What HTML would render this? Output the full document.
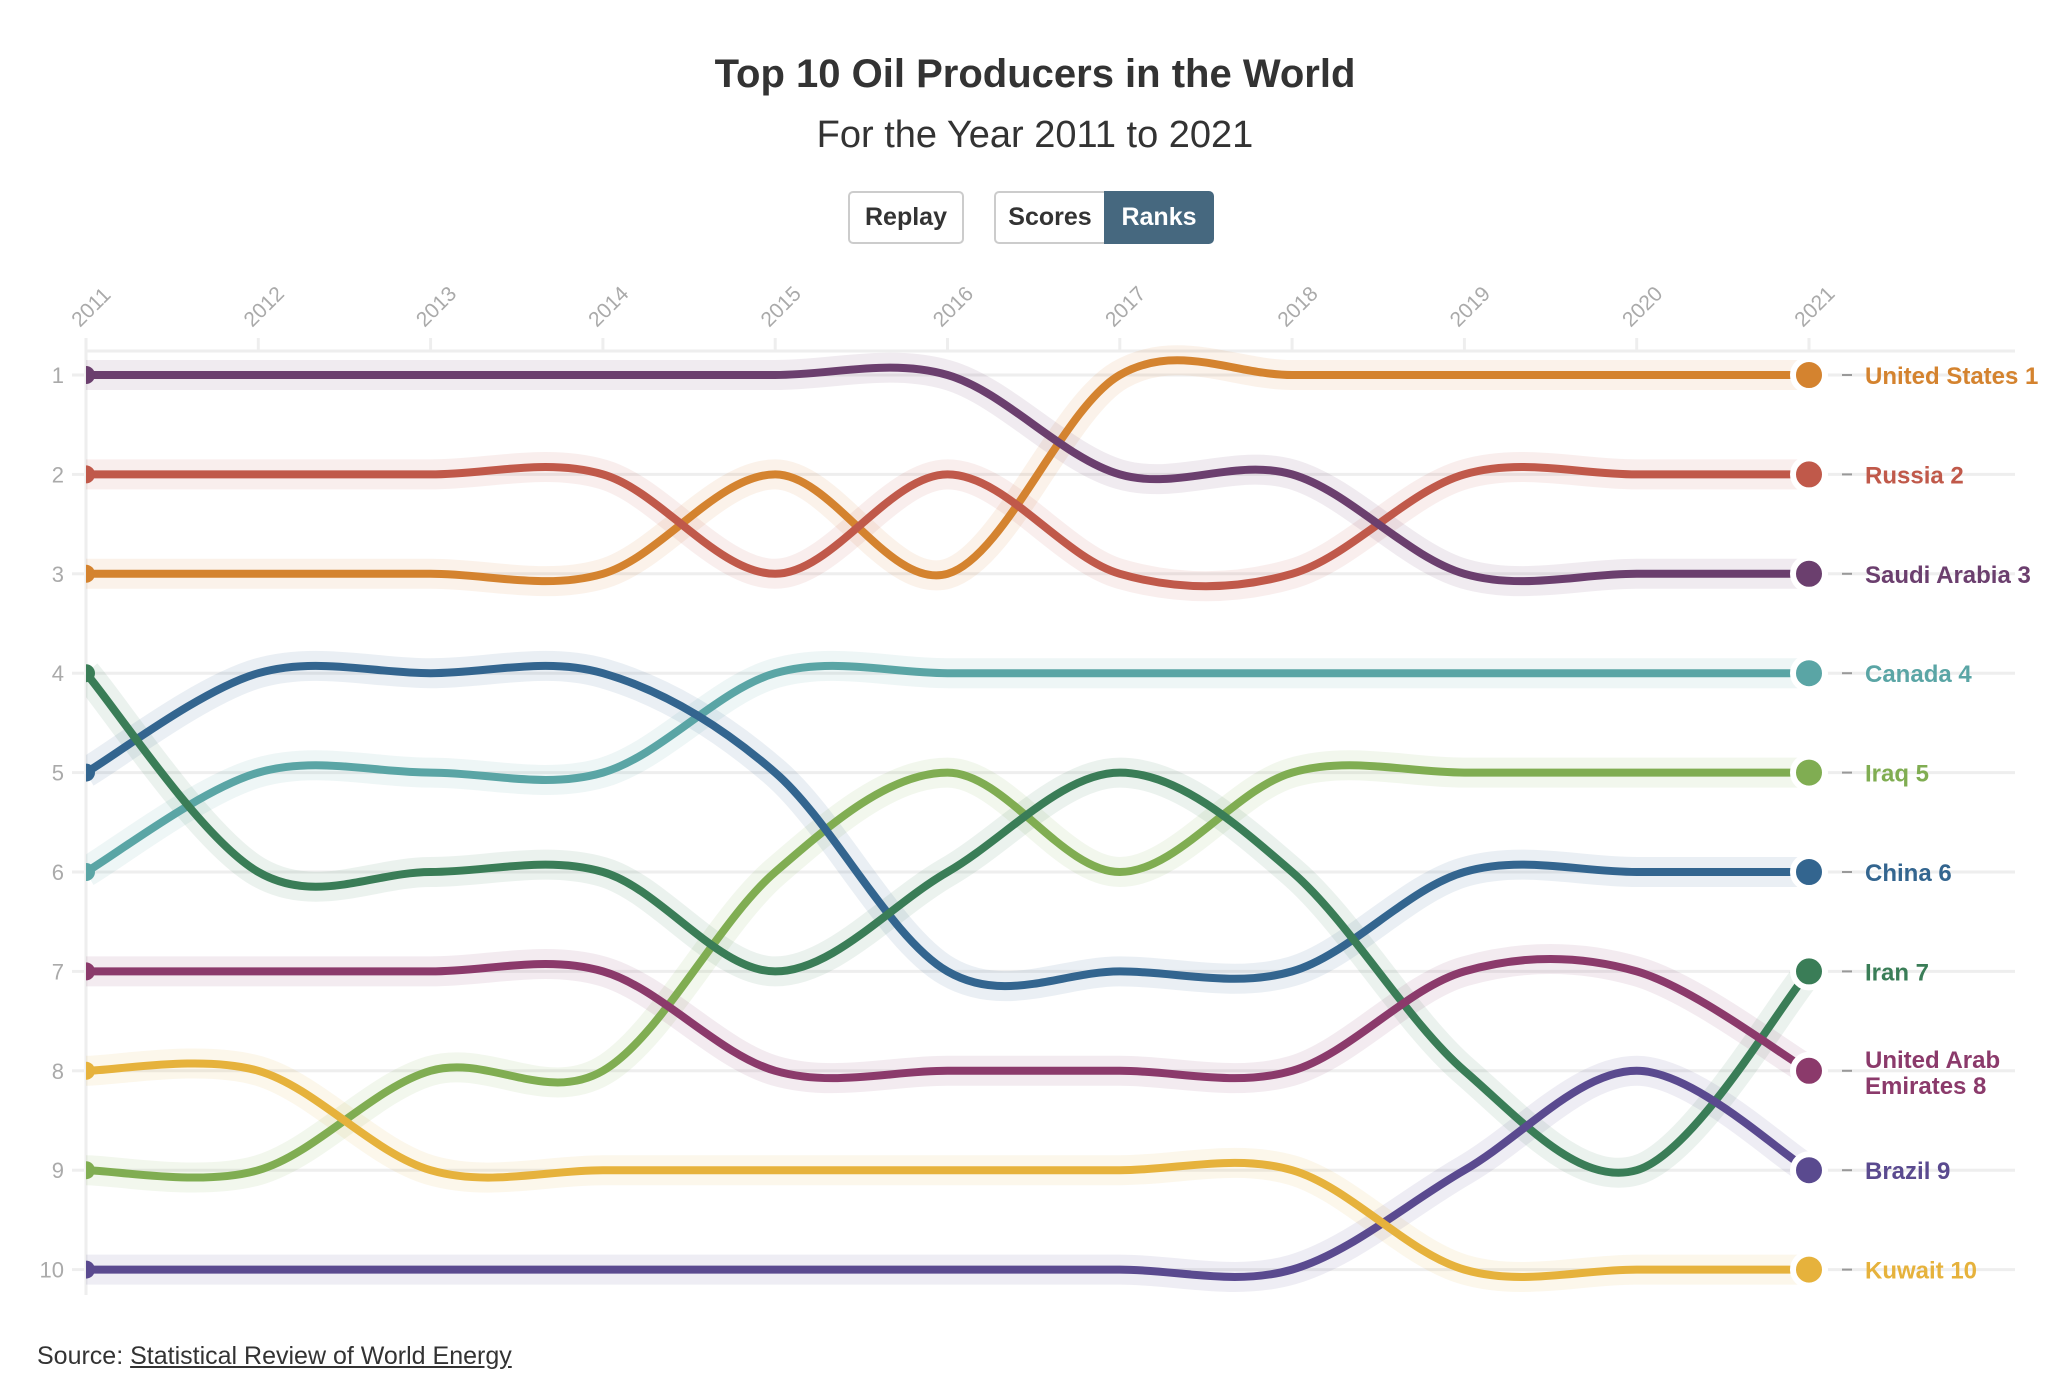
<!DOCTYPE html>
<html><head><meta charset="utf-8"><style>
html,body{margin:0;padding:0;background:#fff;}
body{width:2070px;height:1396px;overflow:hidden;position:relative;font-family:"Liberation Sans",sans-serif;}
.title{position:absolute;left:0;width:2070px;text-align:center;top:52px;font-size:40px;font-weight:bold;color:#333;}
.sub{position:absolute;left:0;width:2070px;text-align:center;top:114px;font-size:38px;color:#333;}
.btn{position:absolute;top:191px;height:53px;box-sizing:border-box;border:2px solid #ccc;border-radius:5px;font-size:25px;font-weight:bold;color:#333;display:flex;align-items:center;justify-content:center;background:#fff;}
.src{position:absolute;left:37px;top:1342px;font-size:25px;color:#333;}
.src u{text-decoration:underline;}
</style></head><body>
<div class="title">Top 10 Oil Producers in the World</div>
<div class="sub">For the Year 2011 to 2021</div>
<div class="btn" style="left:848px;width:116px;">Replay</div>
<div style="position:absolute;left:994px;top:191px;width:220px;height:53px;">
<div class="btn" style="left:0;top:0;width:112px;border-radius:5px 0 0 5px;">Scores</div>
<div class="btn" style="left:110px;top:0;width:110px;border-radius:0 5px 5px 0;background:#46687f;border-color:#46687f;color:#fff;">Ranks</div>
</div>
<svg id="chart" width="2070" height="1396" style="position:absolute;left:0;top:0;pointer-events:none">
<defs><clipPath id="clipL"><rect x="86" y="300" width="2000" height="1100"/></clipPath></defs>
<g id="grid"></g><g id="halos" clip-path="url(#clipL)"></g><g id="lines" clip-path="url(#clipL)"></g><g id="ends"></g>
</svg>
<div class="src">Source: <u>Statistical Review of World Energy</u></div>
<script>
const years = [2011,2012,2013,2014,2015,2016,2017,2018,2019,2020,2021];
const countries = ["United States","Russia","Saudi Arabia","Canada","Iraq","China","Iran","United Arab Emirates","Brazil","Kuwait"];
const rankUS     = [3,3,3,3,2,3,1,1,1,1,1];
const rankRussia = [2,2,2,2,3,2,3,3,2,2,2];
const rankSaudi  = [1,1,1,1,1,1,2,2,3,3,3];
const rankCanada = [6,5,5,5,4,4,4,4,4,4,4];
const rankIraq   = [9,9,8,8,6,5,6,5,5,5,5];
const rankChina  = [5,4,4,4,5,7,7,7,6,6,6];
const rankIran   = [4,6,6,6,7,6,5,6,8,9,7];
const rankUAE    = [7,7,7,7,8,8,8,8,7,7,8];
const rankBrazil = [10,10,10,10,10,10,10,10,9,8,9];
const rankKuwait = [8,8,9,9,9,9,9,9,10,10,10];
const yTicks = [1,2,3,4,5,6,7,8,9,10];
const series = [rankUS,rankRussia,rankSaudi,rankCanada,rankIraq,rankChina,rankIran,rankUAE,rankBrazil,rankKuwait];
const colors = ["#d4832f","#c0594a","#6b3f6e","#5aa5a5","#80ad52","#33658f","#3a7d57","#8b3a6b","#5a4a8f","#e6b23c"];
const NS="http://www.w3.org/2000/svg";
const x = i => 86 + (i)*(1723/(years.length-1));
const y = r => 375 + (r-1)*99.4;
function mk(tag,attrs,parent){const e=document.createElementNS(NS,tag);for(const k in attrs)e.setAttribute(k,attrs[k]);parent.appendChild(e);return e;}
const grid=document.getElementById('grid'), halos=document.getElementById('halos'), lines=document.getElementById('lines'), ends=document.getElementById('ends');
mk('line',{x1:86,y1:351,x2:2015,y2:351,stroke:'#eee','stroke-width':3},grid);
mk('line',{x1:86,y1:338,x2:86,y2:1295,stroke:'#eee','stroke-width':3},grid);
yTicks.forEach(r=>{
  const l=mk('line',{x1:86,y1:y(r),x2:2015,y2:y(r),stroke:'#eee','stroke-width':3},grid);
  
  
  mk('line',{x1:72,y1:y(r),x2:84,y2:y(r),stroke:'#eee','stroke-width':3},grid);
  const t=mk('text',{x:64,y:y(r)+8,'text-anchor':'end','font-size':22,fill:'#aaa','font-family':'Liberation Sans, sans-serif'},grid);
  t.textContent=r;
  
  
});
years.forEach((yr,i)=>{
  mk('line',{x1:x(i),y1:338,x2:x(i),y2:351,stroke:'#eee','stroke-width':3},grid);
  const t=mk('text',{x:0,y:0,'font-size':21,fill:'#aaa','font-family':'Liberation Sans, sans-serif',transform:`translate(${x(i)-6},${328}) rotate(-45)`},grid);
  t.textContent=yr;
  
  
});
function pathFor(vals){
  const p=vals.map((v,i)=>[x(i),y(v)]);
  let d=`M${p[0][0]},${p[0][1]}`;
  for(let i=0;i<p.length-1;i++){
    const p0=p[Math.max(0,i-1)],p1=p[i],p2=p[i+1],p3=p[Math.min(p.length-1,i+2)];
    const c1=[p1[0]+(p2[0]-p0[0])/6,p1[1]+(p2[1]-p0[1])/6];
    const c2=[p2[0]-(p3[0]-p1[0])/6,p2[1]-(p3[1]-p1[1])/6];
    d+=` C${c1[0]},${c1[1]} ${c2[0]},${c2[1]} ${p2[0]},${p2[1]}`;
  }
  return d;
}
series.forEach((vals,k)=>{
  const d=pathFor(vals), c=colors[k], slug=countries[k].toLowerCase().replace(/ /g,'-');
  const h=mk('path',{d:d,fill:'none',stroke:c,'stroke-opacity':0.1,'stroke-width':30},halos);
  
  
  const l=mk('path',{d:d,fill:'none',stroke:c,'stroke-width':8,'stroke-linecap':'round'},lines);
  
  
  const s=mk('circle',{cx:x(0),cy:y(vals[0]),r:9,fill:c},lines);
  
  
  const last=vals[vals.length-1], ex=x(vals.length-1), ey=y(last);
  const e=mk('circle',{cx:ex,cy:ey,r:16,fill:c,stroke:'#fff','stroke-width':6},ends);
  
  
  mk('line',{x1:ex+33,y1:ey,x2:ex+43,y2:ey,stroke:'#999','stroke-width':2},ends);
  const t=mk('text',{x:ex+56,y:ey+9,'font-size':24,'font-weight':'bold',fill:c,'font-family':'Liberation Sans, sans-serif'},ends);
  if(countries[k]==="United Arab Emirates"){
    t.setAttribute('y',ey-3);
    const a=mk('tspan',{x:ex+56},t);a.textContent="United Arab";
    const b=mk('tspan',{x:ex+56,dy:26},t);b.textContent="Emirates "+last;
  } else t.textContent=countries[k]+" "+last;
  
  
});
</script>
</body></html>
